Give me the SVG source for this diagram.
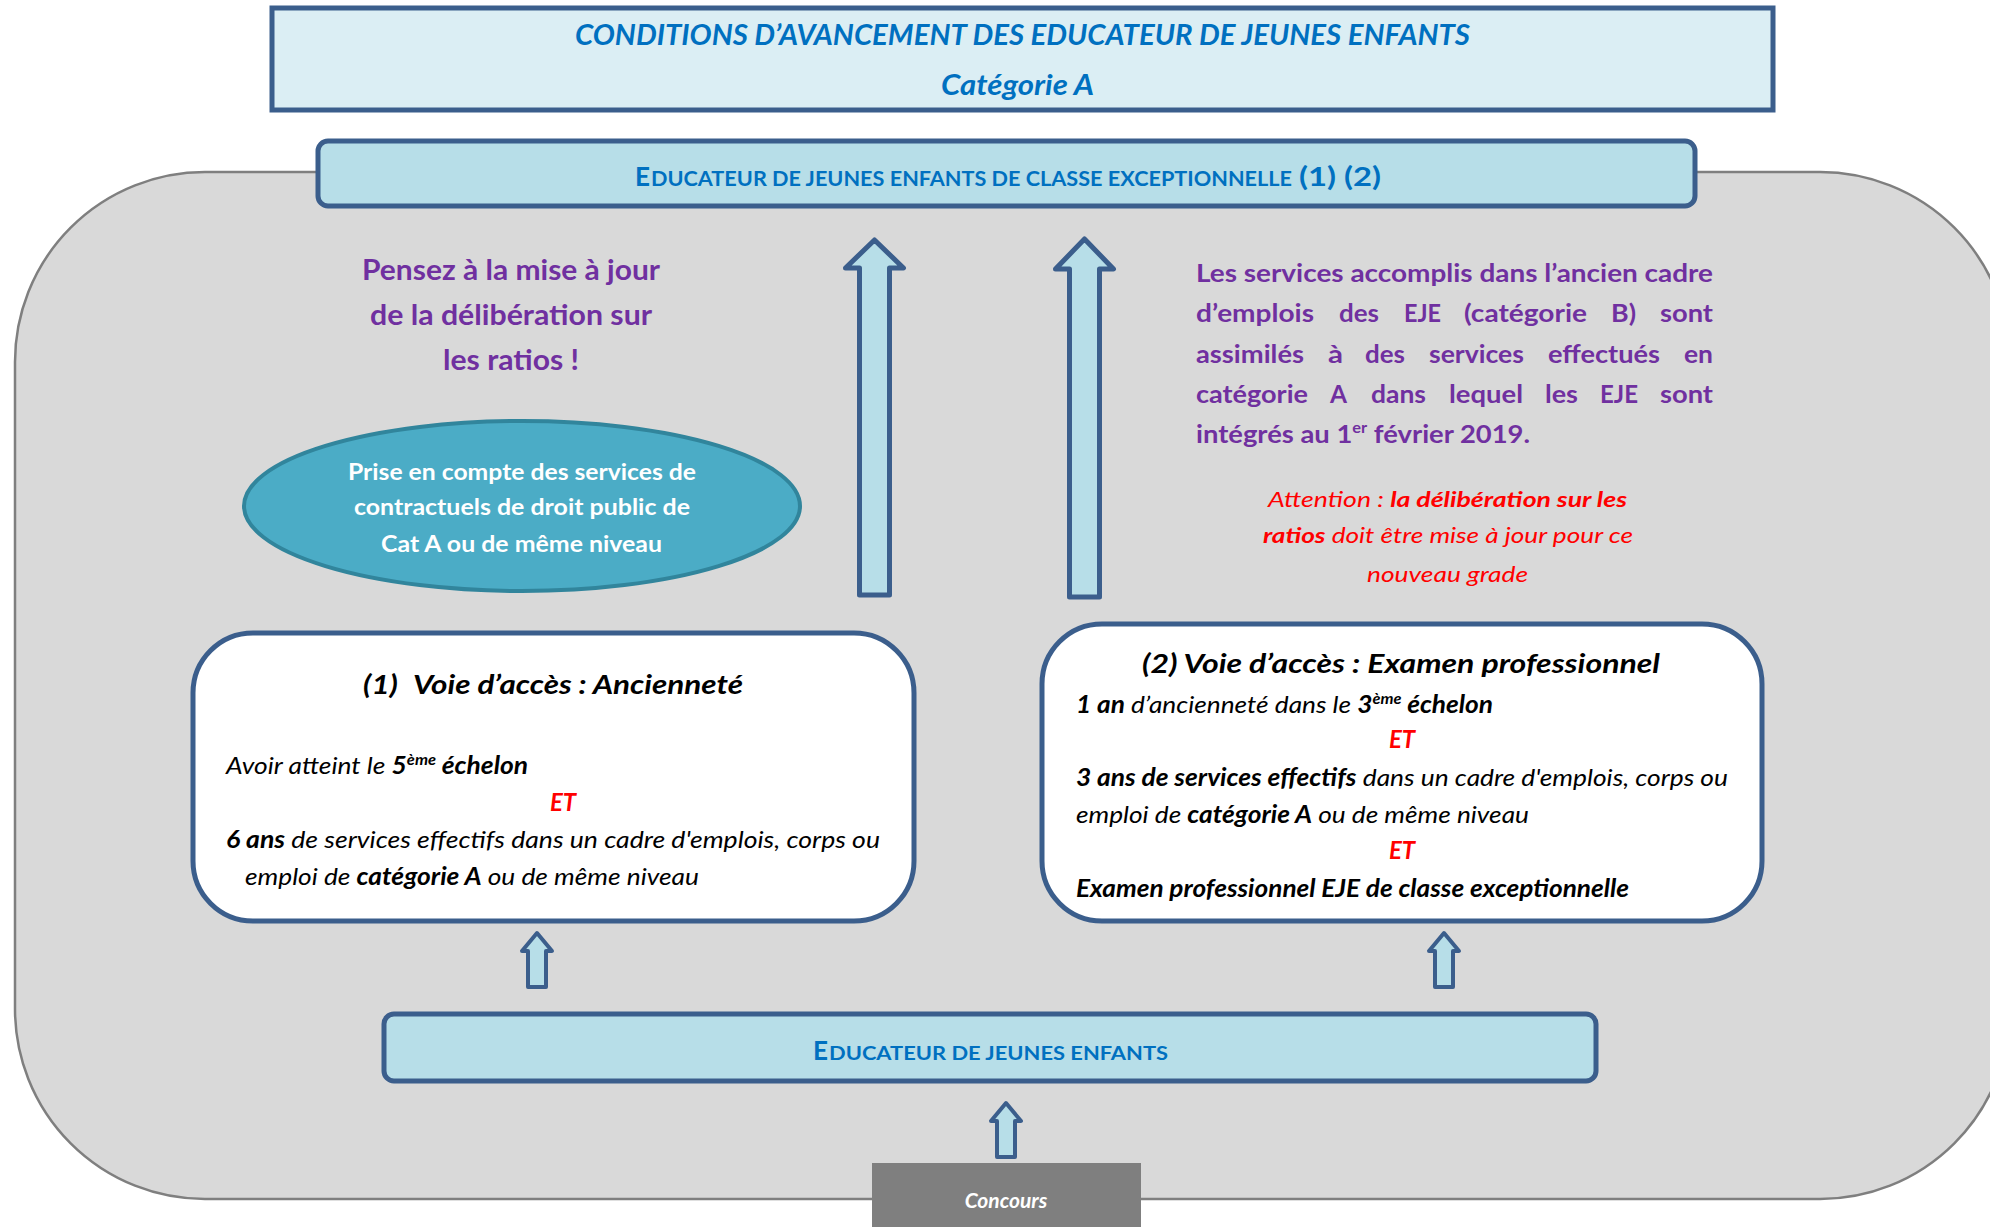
<svg xmlns="http://www.w3.org/2000/svg" width="1990" height="1227" viewBox="0 0 1990 1227">
<style>
text{font-family:Lato,"Open Sans","Liberation Sans",sans-serif}
.blue{fill:#0070C0;font-weight:bold}
.bi{font-weight:bold;font-style:italic}
.it{font-style:italic}
.b{font-weight:bold}
.purple{fill:#7030A0;font-weight:bold}
.red{fill:#FF0000}
.blk{fill:#000}
.box{stroke:#3B5E8C;stroke-width:5}
.arrow{fill:#B7DEE8;stroke:#3B5E8C;stroke-width:5;stroke-linejoin:round}
.sarrow{fill:#B7DEE8;stroke:#3B5E8C;stroke-width:4;stroke-linejoin:round}
</style>
<rect id="background" x="15" y="172" width="1995" height="1027" rx="190" ry="190" fill="#D9D9D9" stroke="#7F7F7F" stroke-width="2.5"/>
<g id="title">
<rect class="box" x="272" y="8" width="1501" height="102" fill="#DBEEF4"/>
<text class="blue it" x="575" y="45" font-size="28" textLength="895" lengthAdjust="spacingAndGlyphs">CONDITIONS D’AVANCEMENT DES EDUCATEUR DE JEUNES ENFANTS</text>
<text class="blue it" x="941" y="95" font-size="28" textLength="153" lengthAdjust="spacingAndGlyphs">Catégorie A</text>
</g>
<g id="node-classe-exceptionnelle">
<rect class="box" x="318" y="141" width="1377" height="65" rx="10" fill="#B7DEE8"/>
<text class="blue" x="635" y="186" font-size="26" textLength="15" lengthAdjust="spacingAndGlyphs">E</text>
<text class="blue" x="651" y="186" font-size="20" textLength="641" lengthAdjust="spacingAndGlyphs">DUCATEUR DE JEUNES ENFANTS DE CLASSE EXCEPTIONNELLE</text>
<text class="blue" x="1299" y="186" font-size="27" textLength="82" lengthAdjust="spacingAndGlyphs">(1) (2)</text>
</g>
<g id="connectors">
<path class="arrow" d="M874.5,240 L903.5,268 L889.5,268 L889.5,595 L859.5,595 L859.5,268 L845.5,268 Z"/>
<path class="arrow" d="M1084.5,239 L1113.5,269 L1099.5,269 L1099.5,597 L1069.5,597 L1069.5,269 L1055.5,269 Z"/>
<path class="sarrow" d="M537,933 L552,951 L546,951 L546,987 L528,987 L528,951 L522,951 Z"/>
<path class="sarrow" d="M1444,933 L1459,951 L1453,951 L1453,987 L1435,987 L1435,951 L1429,951 Z"/>
<path class="sarrow" d="M1006,1103 L1021,1121 L1015,1121 L1015,1157 L997,1157 L997,1121 L991,1121 Z"/>
</g>
<g id="note-ratios">
<text class="purple" x="362" y="280" font-size="28" textLength="298" lengthAdjust="spacingAndGlyphs">Pensez à la mise à jour</text>
<text class="purple" x="370" y="325" font-size="28" textLength="282" lengthAdjust="spacingAndGlyphs">de la délibération sur</text>
<text class="purple" x="443" y="370" font-size="28" textLength="136" lengthAdjust="spacingAndGlyphs">les ratios !</text>
</g>
<g id="node-contractuels">
<ellipse cx="522" cy="506" rx="278" ry="85" fill="#4BACC6" stroke="#31859C" stroke-width="4"/>
<text class="b" fill="#FFFFFF" x="348" y="480" font-size="23" textLength="348" lengthAdjust="spacingAndGlyphs">Prise en compte des services de</text>
<text class="b" fill="#FFFFFF" x="354" y="515" font-size="23" textLength="336" lengthAdjust="spacingAndGlyphs">contractuels de droit public de</text>
<text class="b" fill="#FFFFFF" x="381" y="552" font-size="23" textLength="281" lengthAdjust="spacingAndGlyphs">Cat A ou de même niveau</text>
</g>
<g id="note-services" class="purple" font-size="25">
<text x="1196" y="282" textLength="517" lengthAdjust="spacingAndGlyphs">Les services accomplis dans l’ancien cadre</text>
<text x="1196" y="322" textLength="118" lengthAdjust="spacingAndGlyphs">d’emplois</text>
<text x="1339" y="322" textLength="40" lengthAdjust="spacingAndGlyphs">des</text>
<text x="1404" y="322" textLength="37" lengthAdjust="spacingAndGlyphs">EJE</text>
<text x="1464" y="322" textLength="123" lengthAdjust="spacingAndGlyphs">(catégorie</text>
<text x="1611" y="322" textLength="25" lengthAdjust="spacingAndGlyphs">B)</text>
<text x="1660" y="322" textLength="53" lengthAdjust="spacingAndGlyphs">sont</text>
<text x="1196" y="363" textLength="108" lengthAdjust="spacingAndGlyphs">assimilés</text>
<text x="1328" y="363" textLength="15" lengthAdjust="spacingAndGlyphs">à</text>
<text x="1365" y="363" textLength="40" lengthAdjust="spacingAndGlyphs">des</text>
<text x="1429" y="363" textLength="95" lengthAdjust="spacingAndGlyphs">services</text>
<text x="1548" y="363" textLength="112" lengthAdjust="spacingAndGlyphs">effectués</text>
<text x="1684" y="363" textLength="29" lengthAdjust="spacingAndGlyphs">en</text>
<text x="1196" y="403" textLength="112" lengthAdjust="spacingAndGlyphs">catégorie</text>
<text x="1330" y="403" textLength="17" lengthAdjust="spacingAndGlyphs">A</text>
<text x="1371" y="403" textLength="55" lengthAdjust="spacingAndGlyphs">dans</text>
<text x="1449" y="403" textLength="74" lengthAdjust="spacingAndGlyphs">lequel</text>
<text x="1545" y="403" textLength="33" lengthAdjust="spacingAndGlyphs">les</text>
<text x="1600" y="403" textLength="38" lengthAdjust="spacingAndGlyphs">EJE</text>
<text x="1660" y="403" textLength="53" lengthAdjust="spacingAndGlyphs">sont</text>
<text x="1196" y="443" textLength="334" lengthAdjust="spacingAndGlyphs">intégrés au 1<tspan font-size="15" dy="-10">er</tspan><tspan dy="10"> février 2019.</tspan></text>
</g>
<g id="note-attention" class="red" font-size="21">
<text x="1268" y="507" textLength="359" lengthAdjust="spacingAndGlyphs"><tspan class="it">Attention : </tspan><tspan class="bi">la délibération sur les</tspan></text>
<text x="1263" y="543" textLength="370" lengthAdjust="spacingAndGlyphs"><tspan class="bi">ratios</tspan><tspan class="it"> doit être mise à jour pour ce</tspan></text>
<text class="it" x="1367" y="582" textLength="161" lengthAdjust="spacingAndGlyphs">nouveau grade</text>
</g>
<g id="node-anciennete">
<rect class="box" x="193" y="633" width="721" height="288" rx="60" fill="#FFFFFF"/>
<text class="bi blk" x="363" y="694" font-size="27" textLength="35" lengthAdjust="spacingAndGlyphs">(1)</text>
<text class="bi blk" x="413" y="694" font-size="27" textLength="330" lengthAdjust="spacingAndGlyphs">Voie d’accès : Ancienneté</text>
<text class="it blk" x="226" y="774" font-size="24" textLength="302" lengthAdjust="spacingAndGlyphs">Avoir atteint le <tspan class="bi">5</tspan><tspan class="bi" font-size="15" dy="-9">ème</tspan><tspan class="bi" dy="9"> échelon</tspan></text>
<text class="bi red" x="563" y="811" font-size="24" text-anchor="middle">ET</text>
<text class="it blk" x="226" y="848" font-size="24" textLength="654" lengthAdjust="spacingAndGlyphs"><tspan class="bi">6 ans</tspan> de services effectifs dans un cadre d'emplois, corps ou</text>
<text class="it blk" x="245" y="885" font-size="24" textLength="454" lengthAdjust="spacingAndGlyphs">emploi de <tspan class="bi">catégorie A</tspan> ou de même niveau</text>
</g>
<g id="node-examen">
<rect class="box" x="1042" y="624" width="720" height="297" rx="60" fill="#FFFFFF"/>
<text class="bi blk" x="1142" y="673" font-size="27" textLength="518" lengthAdjust="spacingAndGlyphs">(2) Voie d’accès : Examen professionnel</text>
<text class="it blk" x="1076" y="713" font-size="24" textLength="417" lengthAdjust="spacingAndGlyphs"><tspan class="bi">1 an</tspan> d’ancienneté dans le <tspan class="bi">3</tspan><tspan class="bi" font-size="15" dy="-9">ème</tspan><tspan class="bi" dy="9"> échelon</tspan></text>
<text class="bi red" x="1402" y="748" font-size="24" text-anchor="middle">ET</text>
<text class="it blk" x="1076" y="786" font-size="24" textLength="652" lengthAdjust="spacingAndGlyphs"><tspan class="bi">3 ans de services effectifs</tspan> dans un cadre d'emplois, corps ou</text>
<text class="it blk" x="1076" y="823" font-size="24" textLength="453" lengthAdjust="spacingAndGlyphs">emploi de <tspan class="bi">catégorie A</tspan> ou de même niveau</text>
<text class="bi red" x="1402" y="859" font-size="24" text-anchor="middle">ET</text>
<text class="bi blk" x="1076" y="897" font-size="24" textLength="553" lengthAdjust="spacingAndGlyphs">Examen professionnel EJE de classe exceptionnelle</text>
</g>
<g id="node-eje">
<rect class="box" x="384" y="1014" width="1212" height="67" rx="10" fill="#B7DEE8"/>
<text class="blue" x="813" y="1060" font-size="26" textLength="15" lengthAdjust="spacingAndGlyphs">E</text>
<text class="blue" x="829" y="1060" font-size="19" textLength="339" lengthAdjust="spacingAndGlyphs">DUCATEUR DE JEUNES ENFANTS</text>
</g>
<g id="node-concours">
<rect x="872" y="1163" width="269" height="70" fill="#7F7F7F"/>
<text class="bi" fill="#FFFFFF" x="1006" y="1208" font-size="21" text-anchor="middle">Concours</text>
</g>
</svg>
